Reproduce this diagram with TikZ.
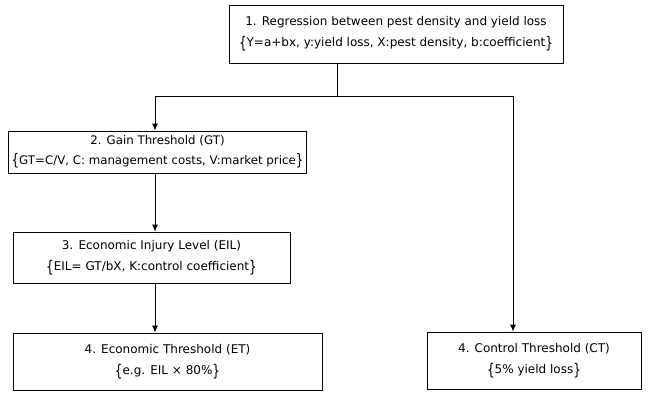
\documentclass[tikz,border=0pt]{standalone}
\usepackage{fontspec}
\setmainfont{DejaVu Sans}
\usetikzlibrary{arrows.meta}
\newcommand{\bl}{\raisebox{-0.15em}{\scalebox{1}[1.35]{\{}}}
\newcommand{\br}{\raisebox{-0.15em}{\scalebox{1}[1.35]{\}}}}
\begin{document}
\begin{tikzpicture}[x=1pt,y=-1pt,
  box/.style={draw=black,line width=0.9pt,inner sep=0pt,align=center,
    font=\fontsize{12}{21}\selectfont},
  conn/.style={draw=black,line width=0.9pt},
  arr/.style={conn,-{Latex[length=7pt,width=6pt]}}]
\useasboundingbox (0,0) rectangle (649,392);
\node[box,minimum width=334pt,minimum height=58pt] (b1) at (396,34)
  {1. Regression between pest density and yield loss\\
   \bl Y=a+bx, y:yield loss, X:pest density, b:coefficient\br};
\node[box,minimum width=298pt,minimum height=42pt,
  font=\fontsize{11.8}{19.5}\selectfont] (b2) at (157.5,152)
  {2. Gain Threshold (GT)\\
   \bl GT=C/V, C: management costs, V:market price\br};
\node[box,minimum width=277pt,minimum height=51pt] (b3) at (151.5,257.5)
  {3. Economic Injury Level (EIL)\\
   \bl EIL= GT/bX, K:control coefficient\br};
\node[box,minimum width=309pt,minimum height=57pt] (et) at (167.5,361.5)
  {4. Economic Threshold (ET)\\
   \bl e.g. EIL × 80\%\br};
\node[box,minimum width=214pt,minimum height=57pt] (ct) at (534,360.5)
  {4. Control Threshold (CT)\\
   \bl 5\% yield loss\br};
\coordinate (jm) at (337,96);
\coordinate (jl) at (155,96);
\coordinate (jr) at (513,96);
\draw[conn] (b1.south -| jm) -- (jm);
\draw[conn] (jl) -- (jr);
\draw[arr] (jl) -- (jl |- b2.north);
\draw[arr] (jr) -- (jr |- ct.north);
\draw[arr] (b2.south -| jl) -- (jl |- b3.north);
\draw[arr] (b3.south -| jl) -- (jl |- et.north);
\end{tikzpicture}
\end{document}
